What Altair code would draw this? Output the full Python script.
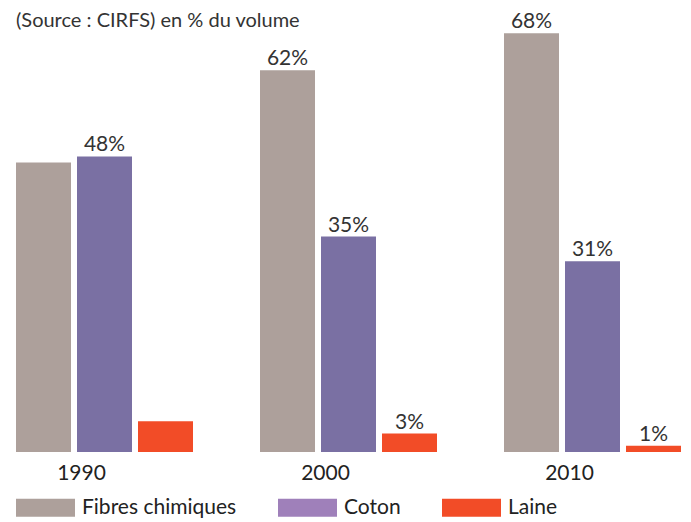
import altair as alt
import pandas as pd

years = ["1990", "2000", "2010"]
series = ["Fibres chimiques", "Coton", "Laine"]
fibres = [47, 62, 68]
coton = [48, 35, 31]
laine = [5, 3, 1]
labels_fibres = ["", "62%", "68%"]
labels_coton = ["48%", "35%", "31%"]
labels_laine = ["", "3%", "1%"]
coton_bar_color = "#7A70A3"
legend_colors = ["#ADA09B", "#9F80BA", "#F24C27"]
subtitle = "(Source : CIRFS) en % du volume"

FONT = "Lato"

rows = []
for i, y in enumerate(years):
    for s, vals, labs in zip(series, [fibres, coton, laine], [labels_fibres, labels_coton, labels_laine]):
        rows.append({"year": y, "series": s, "value": vals[i], "label": labs[i]})
df = pd.DataFrame(rows)

x = alt.X("year:N", sort=years,
          scale=alt.Scale(paddingInner=0.2746, paddingOuter=0),
          axis=alt.Axis(title=None, labelAngle=0, domain=False, ticks=False,
                        labelFontSize=21, labelPadding=10, labelOffset=-23,
                        labelColor="#222222", labelFont=FONT))
xoff = alt.XOffset("series:N", sort=series,
                   scale=alt.Scale(paddingInner=0.0984, paddingOuter=0))
y = alt.Y("value:Q", scale=alt.Scale(domain=[0, 70]), axis=None)

base = alt.Chart(df).encode(x=x, xOffset=xoff, y=y)

bars = base.mark_bar().encode(
    fill=alt.condition(
        alt.datum.series == "Coton",
        alt.value(coton_bar_color),
        alt.Fill("series:N", sort=series,
                 scale=alt.Scale(domain=series, range=legend_colors),
                 legend=alt.Legend(orient="none", legendX=0, legendY=457,
                                   direction="horizontal", title=None,
                                   symbolType="M-1,-0.305H1V0.305H-1Z",
                                   symbolSize=3481, symbolStrokeWidth=0,
                                   labelFontSize=21, labelFont=FONT,
                                   labelColor="#222222",
                                   labelOffset=7, columnPadding=41,
                                   padding=0))
    )
)

texts = base.mark_text(baseline="bottom", dy=-1, fontSize=21, color="#333333", font=FONT).encode(
    text="label:N"
)

sub = alt.Chart(pd.DataFrame({"t": [subtitle]})).mark_text(
    align="left", baseline="middle", fontSize=20, color="#333333", font=FONT
).encode(x=alt.value(0), y=alt.value(0), text="t:N")

chart = alt.layer(bars, texts, sub).properties(
    width=665, height=431,
    autosize=alt.AutoSizeParams(type="none"),
    padding={"left": 8, "top": 13, "right": 2, "bottom": 70},
).configure_view(stroke=None)

chart.save("out.html", embed_options={"renderer": "svg", "actions": False})
